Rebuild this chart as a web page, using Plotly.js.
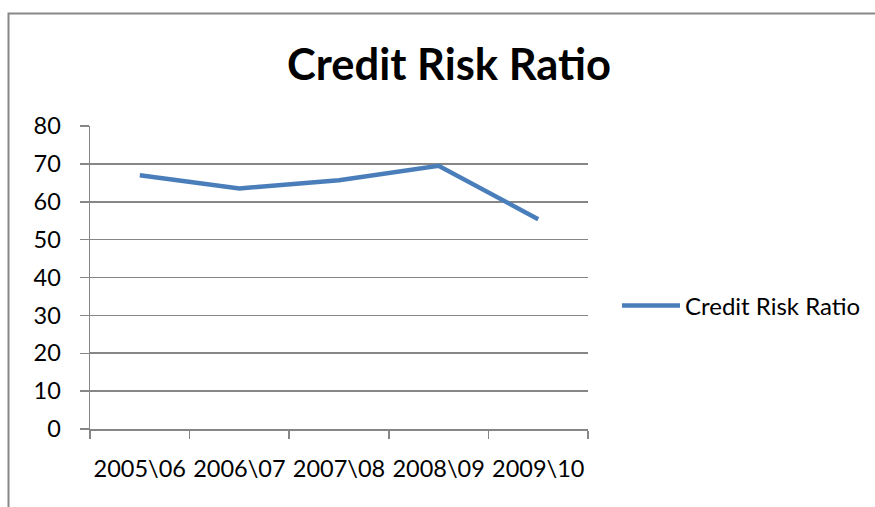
<!DOCTYPE html>
<html>
<head>
<meta charset="utf-8">
<script src="https://cdn.plot.ly/plotly-3.0.1.min.js"></script>
<style>html,body{margin:0;padding:0;background:#fff;}#chart{width:875px;height:507px;}</style>
</head>
<body>
<div id="chart"></div>
<script>
const categories = ["2005\\06", "2006\\07", "2007\\08", "2008\\09", "2009\\10"];
const creditRiskRatio = [67.0, 63.5, 65.7, 69.5, 55.4];
const seriesName = "Credit Risk Ratio";
const chartTitle = "Credit Risk Ratio";
const yTicks = [0, 10, 20, 30, 40, 50, 60, 70, 80];

const W = 875, H = 507;
const L = 90, R = 588, T = 126, B = 429;
const px = v => (v - L) / (R - L);
const py = v => (B - v) / (B - T);
const FONT = "Lato, 'Open Sans', sans-serif";
const GRID = "#868686";

const trace = {
  type: "scatter",
  mode: "lines",
  x: categories,
  y: creditRiskRatio,
  name: seriesName,
  line: {color: "#4A7EBB", width: 4.5},
  showlegend: true
};

const layout = {
  width: W, height: H,
  margin: {l: L, r: W - R, t: T, b: H - B, pad: 0},
  paper_bgcolor: "#ffffff",
  plot_bgcolor: "#ffffff",
  font: {family: FONT, color: "#000000", size: 23.5},
  title: {
    text: "<b>" + chartTitle + "</b>",
    font: {family: FONT, size: 43.5, color: "#000000"},
    xref: "container", x: 449 / W, xanchor: "center",
    yref: "container", y: 1 - 65 / H, yanchor: "middle"
  },
  xaxis: {
    type: "category",
    range: [-0.5, categories.length - 0.5],
    tickson: "boundaries",
    tickangle: 0,
    ticks: "outside", ticklen: 8, tickwidth: 1.5, tickcolor: GRID,
    showline: true, linecolor: GRID, linewidth: 1.5,
    showgrid: false, zeroline: false,
    tickfont: {family: FONT, size: 23.5, color: "#000"},
    ticklabelstandoff: 18
  },
  yaxis: {
    range: [0, 80],
    tickvals: yTicks,
    ticks: "outside", ticklen: 9, tickwidth: 1.5, tickcolor: GRID,
    showline: true, linecolor: GRID, linewidth: 1.5,
    showgrid: true, gridcolor: GRID, gridwidth: 1.6,
    zeroline: false,
    tickfont: {family: FONT, size: 23.5, color: "#000"},
    ticklabelstandoff: 14
  },
  legend: {
    xref: "container", yref: "container",
    x: 617 / W, xanchor: "left",
    y: 1 - 306 / H, yanchor: "middle",
    font: {family: FONT, size: 24, color: "#000"},
    bgcolor: "rgba(0,0,0,0)",
    itemwidth: 58
  },
  shapes: [{
    type: "rect", xref: "paper", yref: "paper",
    x0: px(8.5), x1: px(885), y0: py(520), y1: py(13.5),
    line: {color: "#878787", width: 2}, fillcolor: "rgba(0,0,0,0)", layer: "below"
  }],
  showlegend: true
};

Plotly.newPlot("chart", [trace], layout, {staticPlot: true, displayModeBar: false});
</script>
</body>
</html>
